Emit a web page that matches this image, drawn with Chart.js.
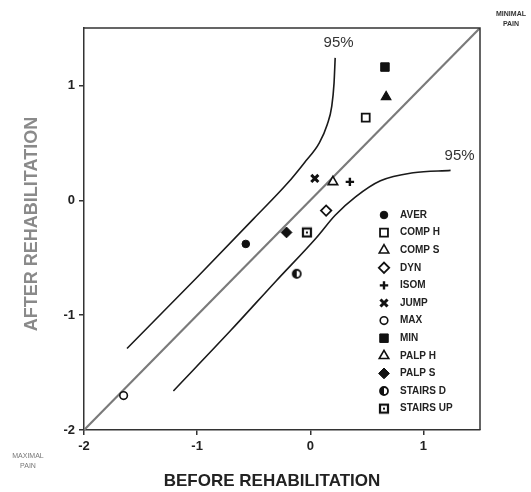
<!DOCTYPE html>
<html>
<head>
<meta charset="utf-8">
<script src="https://cdn.jsdelivr.net/npm/chart.js@4.4.1/dist/chart.umd.min.js"></script>
<style>
  html, body { margin: 0; padding: 0; background: #fff; }
  #wrap { width: 531px; height: 492px; }
</style>
</head>
<body>
<div id="wrap"><canvas id="painChart" width="531" height="492"></canvas></div>
<script>
// Pain scores before vs after rehabilitation

const markLabels = ['AVER', 'COMP H', 'COMP S', 'DYN', 'ISOM', 'JUMP', 'MAX', 'MIN', 'PALP H', 'PALP S', 'STAIRS D', 'STAIRS UP'];
const beforeValues = [-0.57, 0.49, 0.67, 0.14, 0.35, 0.04, -1.65, 0.66, 0.20, -0.21, -0.12, -0.03];
const afterValues = [-0.38, 0.72, 0.90, -0.09, 0.16, 0.19, -1.70, 1.16, 0.16, -0.28, -0.64, -0.28];

// 95% limit curves
const upperX = [-1.62, -1.0, -0.5, -0.2, -0.05, 0.08, 0.15, 0.19, 0.21, 0.22];
const upperY = [-1.29, -0.67, -0.16, 0.15, 0.33, 0.50, 0.66, 0.82, 1.02, 1.24];
const lowerX = [-1.21, -0.7, -0.3, 0.05, 0.22, 0.40, 0.62, 0.91, 1.24];
const lowerY = [-1.66, -1.13, -0.70, -0.33, -0.13, 0.03, 0.17, 0.24, 0.26];

// line of equality
const identityX = [-2, 1.5];
const identityY = [-2, 1.5];

const xTicks = [-2, -1, 0, 1];
const yTicks = [-2, -1, 0, 1];

// markers drawn hollow in the key only
const hollowInKey = ['COMP S'];

// Custom point images
function makeHalfCircle() {
    const c = document.createElement('canvas');
    c.width = 12; c.height = 12;
    const g = c.getContext('2d');
    g.lineWidth = 1.8;
    g.strokeStyle = '#111';
    g.beginPath();
    g.arc(6, 6, 4, 0, Math.PI * 2);
    g.stroke();
    g.fillStyle = '#111';
    g.beginPath();
    g.arc(6, 6, 4, Math.PI * 0.5, Math.PI * 1.5);
    g.fill();
    return c;
}

function makeDotSquare() {
    const c = document.createElement('canvas');
    c.width = 12; c.height = 12;
    const g = c.getContext('2d');
    g.lineWidth = 2.2;
    g.strokeStyle = '#111';
    g.strokeRect(2, 2, 8, 8);
    g.fillStyle = '#111';
    g.fillRect(5, 5, 2, 2);
    return c;
}

const markStyles = {
    'AVER':      { pointStyle: 'circle',   radius: 3.8, fill: '#111', width: 1 },
    'COMP H':    { pointStyle: 'rect',     radius: 5.6, fill: '#fff', width: 1.8 },
    'COMP S':    { pointStyle: 'triangle', radius: 5.5, fill: '#111', width: 1.2 },
    'DYN':       { pointStyle: 'rectRot',  radius: 5.2, fill: '#fff', width: 1.8 },
    'ISOM':      { pointStyle: 'cross',    radius: 4.2, fill: '#111', width: 2.4 },
    'JUMP':      { pointStyle: 'crossRot', radius: 5,   fill: '#111', width: 3 },
    'MAX':       { pointStyle: 'circle',   radius: 3.8, fill: '#fff', width: 1.6 },
    'MIN':       { pointStyle: 'rect',     radius: 6,   fill: '#111', width: 1 },
    'PALP H':    { pointStyle: 'triangle', radius: 5.5, fill: '#fff', width: 1.6 },
    'PALP S':    { pointStyle: 'rectRot',  radius: 5.4, fill: '#111', width: 1 },
    'STAIRS D':  { pointStyle: makeHalfCircle(), radius: 5, fill: '#111', width: 1 },
    'STAIRS UP': { pointStyle: makeDotSquare(),  radius: 5, fill: '#111', width: 1 }
};

function pairs(xs, ys) {
    return xs.map((x, i) => ({ x: x, y: ys[i] }));
}

function buildDatasets() {
    const sets = markLabels.map((label, i) => {
        const st = markStyles[label];
        return {
            label: label,
            data: [{ x: beforeValues[i], y: afterValues[i] }],
            pointStyle: st.pointStyle,
            pointRadius: st.radius,
            backgroundColor: st.fill,
            borderColor: '#111',
            borderWidth: st.width,
            showLine: false,
            isMark: true
        };
    });

    sets.push({
        label: 'identity',
        data: pairs(identityX, identityY),
        showLine: true,
        pointRadius: 0,
        borderColor: '#7a7a7a',
        borderWidth: 2.2
    });
    sets.push({
        label: 'upper 95%',
        data: pairs(upperX, upperY),
        showLine: true,
        pointRadius: 0,
        borderColor: '#1a1a1a',
        borderWidth: 1.6,
        cubicInterpolationMode: 'monotone'
    });
    sets.push({
        label: 'lower 95%',
        data: pairs(lowerX, lowerY),
        showLine: true,
        pointRadius: 0,
        borderColor: '#1a1a1a',
        borderWidth: 1.6,
        cubicInterpolationMode: 'monotone'
    });
    return sets;
}

// Frame, titles, notes and key
const decorPlugin = {
    id: 'decor',
    afterDraw(chart) {
        const ctx = chart.ctx;
        const area = chart.chartArea;
        const xs = chart.scales.x;
        const ys = chart.scales.y;

        ctx.save();
        // top and right edges of the box
        ctx.strokeStyle = '#333';
        ctx.lineWidth = 1.5;
        ctx.beginPath();
        ctx.moveTo(area.left, area.top);
        ctx.lineTo(area.right, area.top);
        ctx.lineTo(area.right, area.bottom);
        ctx.stroke();

        // axis titles
        ctx.fillStyle = '#8a8a8a';
        ctx.font = 'bold 18px "Liberation Sans", Arial, sans-serif';
        ctx.textAlign = 'center';
        ctx.textBaseline = 'middle';
        ctx.save();
        ctx.translate(32, 224);
        ctx.rotate(-Math.PI / 2);
        ctx.fillText('AFTER REHABILITATION', 0, 0);
        ctx.restore();

        ctx.fillStyle = '#222';
        ctx.font = 'bold 17px "Liberation Sans", Arial, sans-serif';
        ctx.fillText('BEFORE REHABILITATION', 272, 481);

        // 95% labels
        ctx.fillStyle = '#333';
        ctx.font = '15px "Liberation Sans", Arial, sans-serif';
        ctx.fillText('95%', xs.getPixelForValue(0.25), ys.getPixelForValue(1.37));
        ctx.fillText('95%', xs.getPixelForValue(1.32), ys.getPixelForValue(0.39));

        // pain notes
        ctx.fillStyle = '#777';
        ctx.font = '7px "Liberation Sans", Arial, sans-serif';
        ctx.fillText('MAXIMAL', 28, 456);
        ctx.fillText('PAIN', 28, 466);
        ctx.fillStyle = '#333';
        ctx.font = 'bold 7px "Liberation Sans", Arial, sans-serif';
        ctx.fillText('MINIMAL', 511, 14);
        ctx.fillText('PAIN', 511, 24);

        // key
        const keyX = 384;
        let keyY = 215;
        const step = 17.6;
        ctx.textAlign = 'left';
        ctx.font = 'bold 10px "Liberation Sans", Arial, sans-serif';
        chart.data.datasets.forEach(ds => {
            if (!ds.isMark) return;
            const hollow = hollowInKey.includes(ds.label);
            ctx.fillStyle = hollow ? '#fff' : ds.backgroundColor;
            ctx.strokeStyle = ds.borderColor;
            ctx.lineWidth = hollow ? 1.6 : ds.borderWidth;
            Chart.helpers.drawPoint(ctx, {
                pointStyle: ds.pointStyle,
                radius: ds.pointRadius,
                borderWidth: hollow ? 1.6 : ds.borderWidth,
                rotation: 0
            }, keyX, keyY);
            ctx.fillStyle = '#222';
            ctx.fillText(ds.label, keyX + 16, keyY);
            keyY += step;
        });
        ctx.restore();
    }
};

function makeScale(ticks, fitFn) {
    return {
        type: 'linear',
        min: -2,
        max: 1.5,
        afterBuildTicks: scale => {
            scale.ticks = ticks.map(v => ({ value: v }));
        },
        afterFit: fitFn,
        ticks: {
            color: '#222',
            font: { family: '"Liberation Sans", Arial, sans-serif', size: 13, weight: 'bold' },
            padding: 4,
            maxRotation: 0,
            callback: v => String(v)
        },
        grid: {
            drawOnChartArea: false,
            drawTicks: true,
            tickLength: 5,
            color: '#333',
            lineWidth: 1.5
        },
        border: { display: true, color: '#333', width: 1.5 }
    };
}

document.addEventListener('DOMContentLoaded', function() {
    const ctx = document.getElementById('painChart');
    new Chart(ctx, {
        type: 'scatter',
        data: { datasets: buildDatasets() },
        options: {
            responsive: false,
            animation: false,
            layout: { padding: { top: 28, right: 51, left: 0, bottom: 0 } },
            plugins: {
                legend: { display: false },
                tooltip: { enabled: false }
            },
            scales: {
                x: makeScale(xTicks, s => { s.height = 62; }),
                y: makeScale(yTicks, s => { s.width = 84; })
            }
        },
        plugins: [decorPlugin]
    });
});
</script>
</body>
</html>
